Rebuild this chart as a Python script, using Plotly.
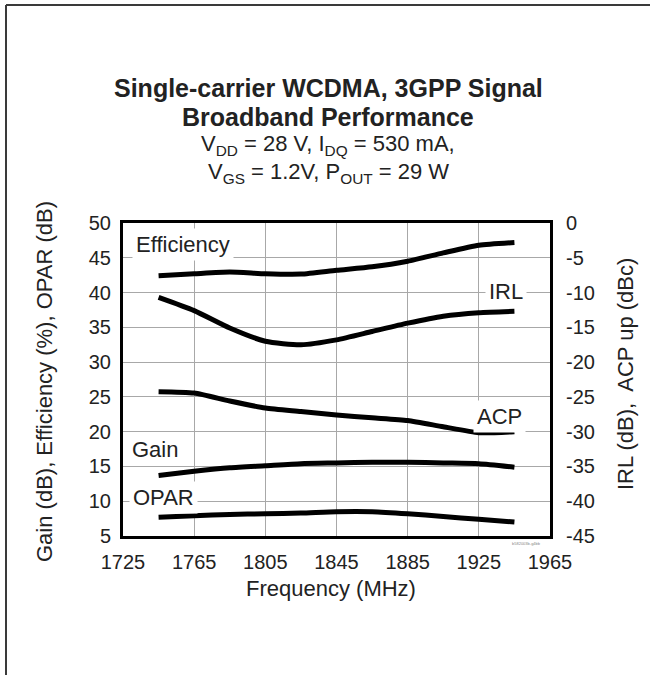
import plotly.graph_objects as go

# ---------------- data ----------------
freq_mhz = [1745, 1765, 1785, 1805, 1825, 1845, 1865, 1885, 1905, 1925, 1945]
efficiency_pct = [42.4, 42.7, 42.95, 42.7, 42.65, 43.2, 43.7, 44.5, 45.7, 46.8, 47.2]
irl_db = [-10.7, -12.6, -15.1, -17.0, -17.5, -16.8, -15.6, -14.4, -13.4, -12.9, -12.7]
acp_dbc = [-24.25, -24.45, -25.6, -26.6, -27.1, -27.6, -28.0, -28.4, -29.3, -30.15, -30.0]
gain_db = [13.7, 14.3, 14.8, 15.1, 15.4, 15.5, 15.6, 15.6, 15.5, 15.4, 14.9]
opar_db = [7.7, 7.9, 8.1, 8.2, 8.3, 8.5, 8.5, 8.2, 7.8, 7.4, 7.0]

x_ticks = [1725, 1765, 1805, 1845, 1885, 1925, 1965]
left_ticks = [5, 10, 15, 20, 25, 30, 35, 40, 45, 50]
right_ticks = [-45, -40, -35, -30, -25, -20, -15, -10, -5, 0]

title_lines = [
    "<b>Single-carrier WCDMA, 3GPP Signal</b>",
    "<b>Broadband Performance</b>",
    "V<sub>DD</sub> = 28 V, I<sub>DQ</sub> = 530 mA,",
    "V<sub>GS</sub> = 1.2V, P<sub>OUT</sub> = 29 W",
]
x_title = "Frequency (MHz)"
y_left_title = "Gain (dB), Efficiency (%), OPAR (dB)"
y_right_title = "IRL (dB),  ACP up (dBc)"

# curve labels: (text, x, y on left axis, anchor)
curve_labels = [
    ("Efficiency", 1730, 46.9, "left"),
    ("IRL", 1940, 40.2, "center"),
    ("ACP", 1936.5, 22.2, "center"),
    ("Gain", 1743, 17.4, "center"),
    ("OPAR", 1747.5, 10.5, "center"),
]

# ---------------- layout geometry ----------------
W, H = 650, 675
L, R, T, B = 123, 100, 223, 139
PW, PH = W - L - R, H - T - B
FONT = "Liberation Sans, Arial, sans-serif"


def px_x(p):
    return (p - L) / PW


def px_y(p):
    return (H - B - p) / PH


fig = go.Figure()
line_style = dict(color="black", width=5, shape="spline", smoothing=0.6)
fig.add_trace(go.Scatter(x=freq_mhz, y=efficiency_pct, mode="lines", line=line_style, yaxis="y"))
fig.add_trace(go.Scatter(x=freq_mhz, y=gain_db, mode="lines", line=line_style, yaxis="y"))
fig.add_trace(go.Scatter(x=freq_mhz, y=opar_db, mode="lines", line=line_style, yaxis="y"))
fig.add_trace(go.Scatter(x=freq_mhz, y=irl_db, mode="lines", line=line_style, yaxis="y2"))
fig.add_trace(go.Scatter(x=freq_mhz, y=acp_dbc, mode="lines", line=line_style, yaxis="y2"))

annotations = []
for txt, x, y, anc in curve_labels:
    annotations.append(dict(
        text=txt, x=x, y=y, xref="x", yref="y", xanchor=anc, yanchor="middle",
        showarrow=False, bgcolor="white", borderpad=3,
        font=dict(family=FONT, size=22, color="#222222"),
    ))

title_y = [88, 117, 145, 173]
title_sizes = [25, 25, 22, 22]
for txt, yy, sz in zip(title_lines, title_y, title_sizes):
    annotations.append(dict(
        text=txt, x=px_x(328), y=px_y(yy), xref="paper", yref="paper",
        xanchor="center", yanchor="middle", showarrow=False,
        font=dict(family=FONT, size=sz, color="#222222"),
    ))

annotations.append(dict(
    text=x_title, x=px_x(331), y=px_y(588), xref="paper", yref="paper",
    xanchor="center", yanchor="middle", showarrow=False,
    font=dict(family=FONT, size=22, color="#222222"),
))
annotations.append(dict(
    text=y_left_title, x=px_x(44), y=px_y(382), xref="paper", yref="paper",
    xanchor="center", yanchor="middle", showarrow=False, textangle=-90,
    font=dict(family=FONT, size=22, color="#222222"),
))
annotations.append(dict(
    text=y_right_title, x=px_x(625), y=px_y(374), xref="paper", yref="paper",
    xanchor="center", yanchor="middle", showarrow=False, textangle=-90,
    font=dict(family=FONT, size=22, color="#222222"),
))
annotations.append(dict(
    text="b582003b-g4bb", x=px_x(543), y=px_y(543), xref="paper", yref="paper",
    xanchor="right", yanchor="middle", showarrow=False,
    font=dict(family=FONT, size=4, color="#888888"),
))

shapes = [
    dict(type="line", xref="paper", yref="paper", x0=px_x(6), x1=px_x(650),
         y0=px_y(5), y1=px_y(5), line=dict(color="#3a3a3a", width=2)),
    dict(type="line", xref="paper", yref="paper", x0=px_x(6), x1=px_x(6),
         y0=px_y(5), y1=px_y(675), line=dict(color="#3a3a3a", width=2)),
]

tick_font = dict(family=FONT, size=20, color="#222222")
fig.update_layout(
    width=W, height=H,
    margin=dict(l=L, r=R, t=T, b=B, pad=0),
    paper_bgcolor="white", plot_bgcolor="white",
    showlegend=False,
    annotations=annotations,
    shapes=shapes,
    xaxis=dict(range=[1725, 1965], tickvals=x_ticks, ticktext=[str(v) for v in x_ticks],
               showgrid=True, gridcolor="#a8a8a8", gridwidth=1, zeroline=False,
               showline=True, mirror=True, linecolor="black", linewidth=3,
               ticks="", tickfont=tick_font, ticklabelstandoff=6),
    yaxis=dict(range=[5, 50], tickvals=left_ticks, ticktext=[str(v) for v in left_ticks],
               showgrid=True, gridcolor="#a8a8a8",
               gridwidth=1, zeroline=False, showline=True, mirror=True,
               linecolor="black", linewidth=3, ticks="", tickfont=tick_font,
               ticklabelstandoff=5),
    yaxis2=dict(range=[-45, 0], tickvals=right_ticks, ticktext=[str(v) for v in right_ticks],
                overlaying="y", side="right",
                showgrid=False, zeroline=False, showline=False, ticks="",
                tickfont=tick_font, ticklabelstandoff=15),
)

fig.write_html(
    "out.html",
    config={"displayModeBar": False},
    post_script="document.body.style.margin='0';document.body.style.overflow='hidden';",
)
